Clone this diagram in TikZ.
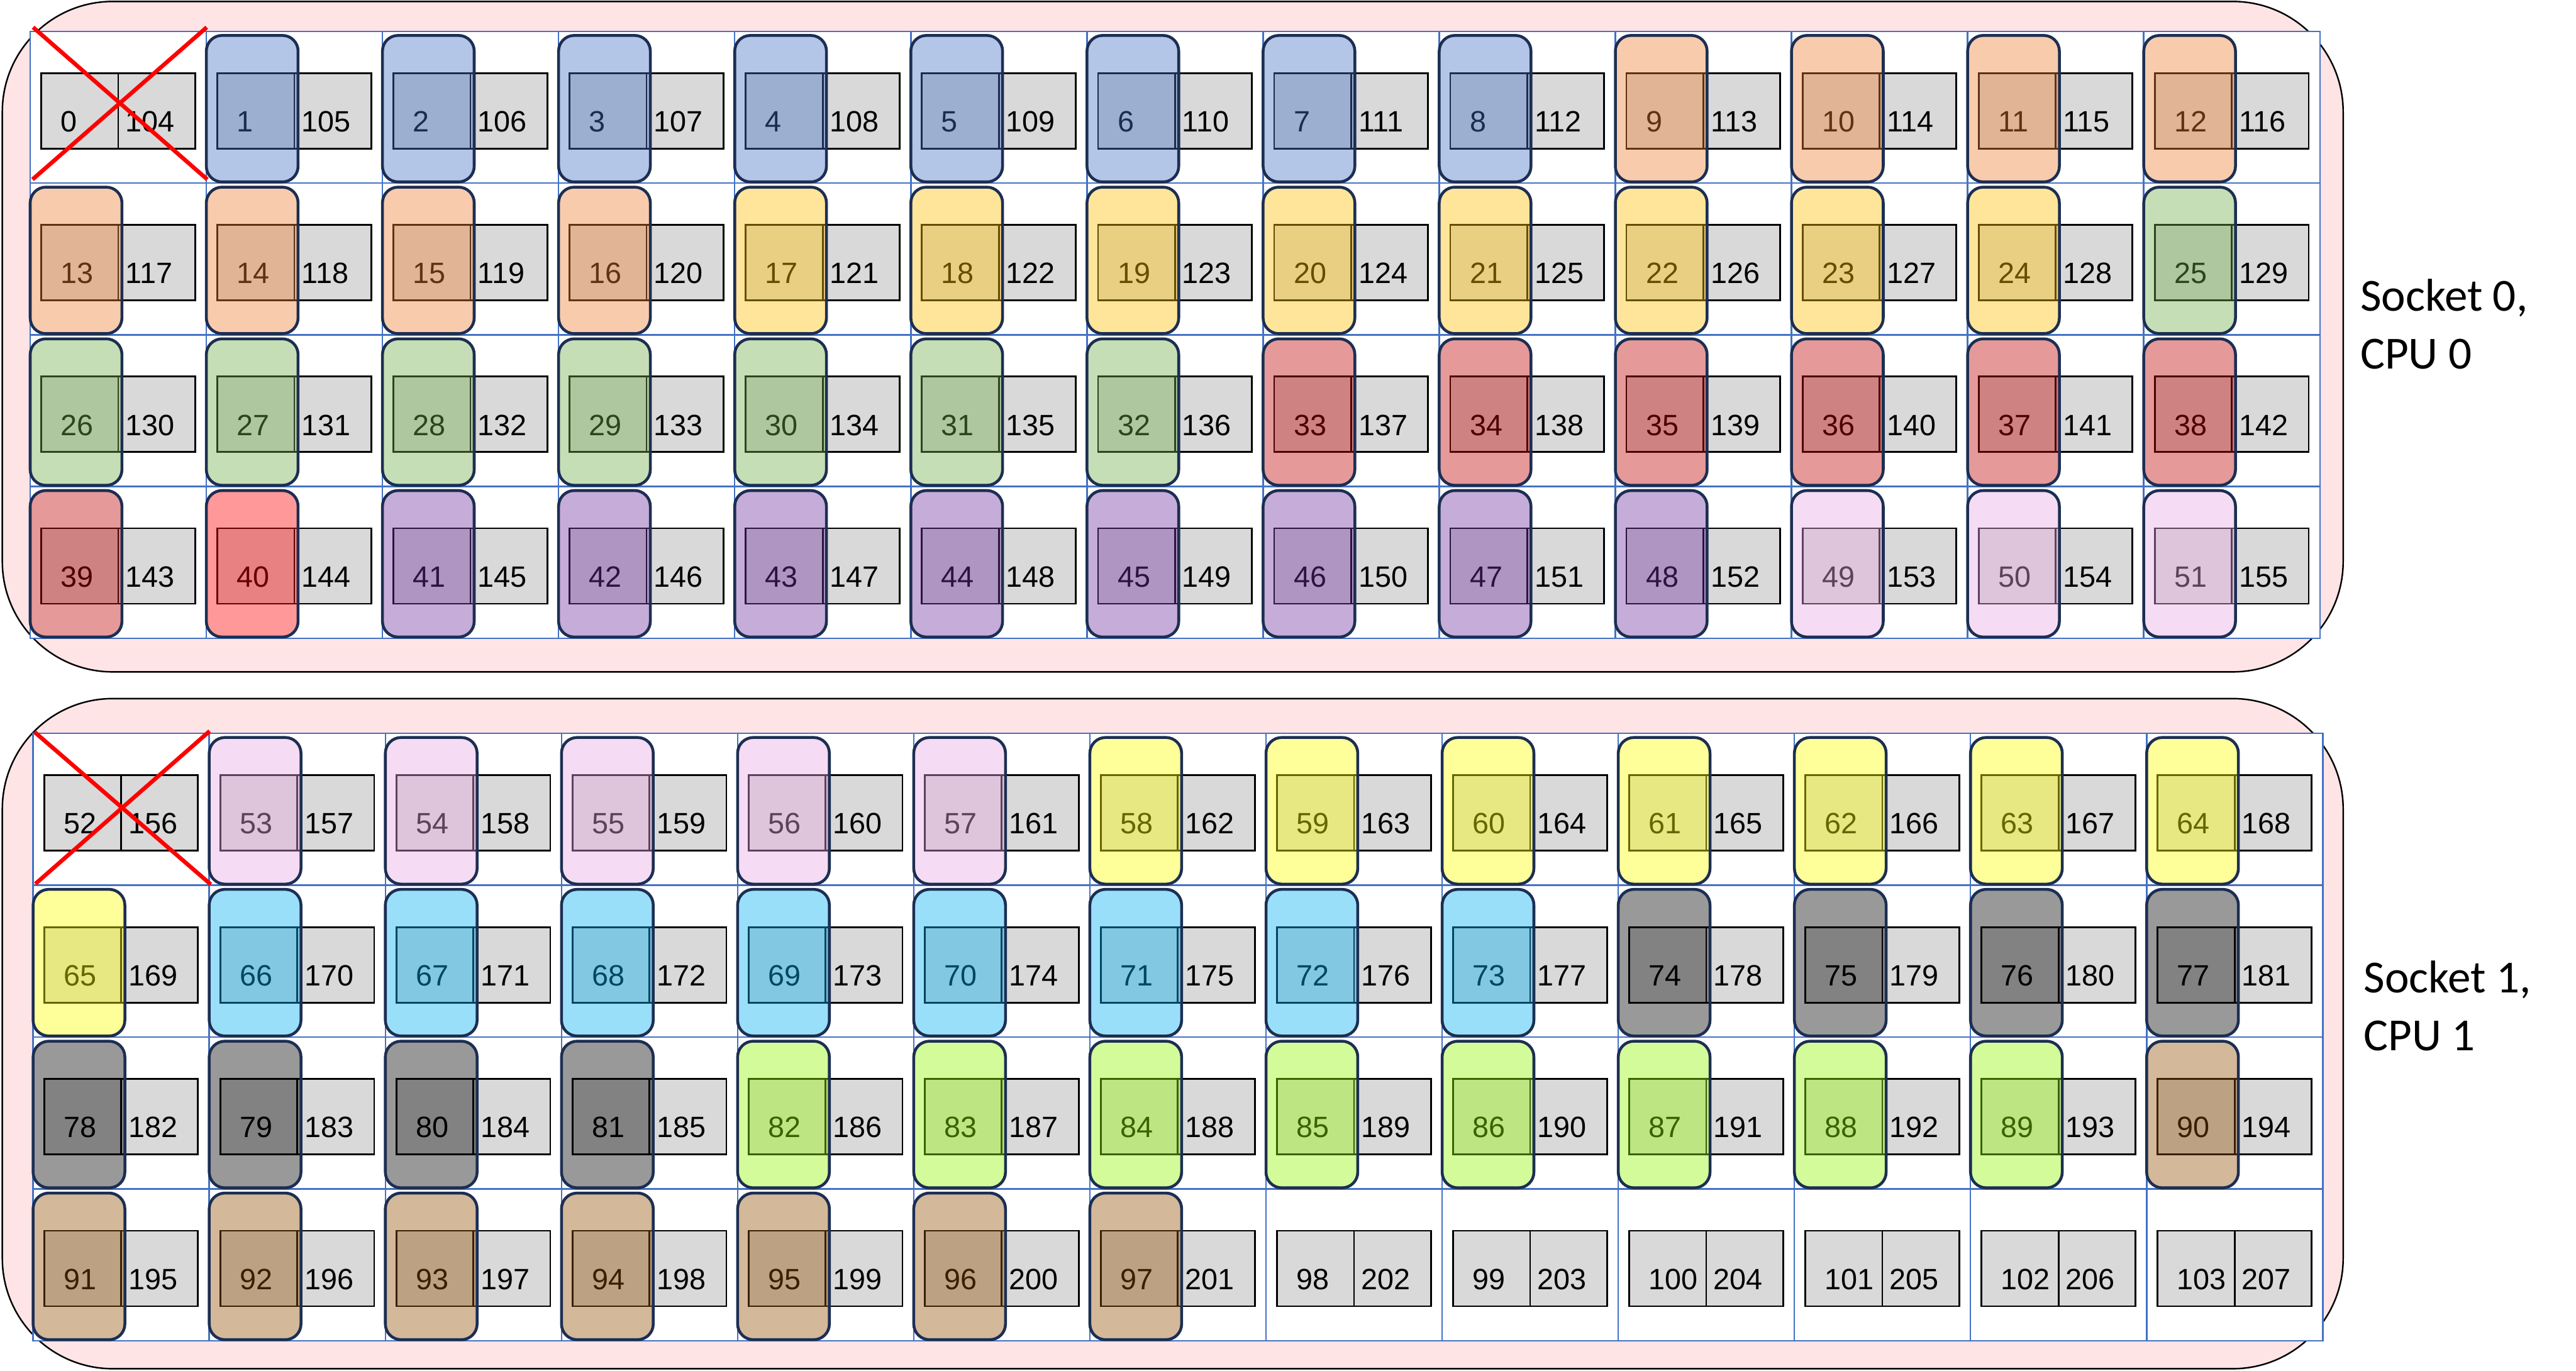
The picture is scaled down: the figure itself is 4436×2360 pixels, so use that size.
\documentclass[tikz,border=0pt]{standalone}
\usepackage{fontspec}
\setmainfont{Liberation Sans}
\newfontfamily\sockfont{Carlito}
\definecolor{sockpink}{HTML}{FFE4E6}
\definecolor{gridblue}{HTML}{4472C4}
\definecolor{boxgray}{HTML}{D9D9D9}
\definecolor{navy}{HTML}{1C2E52}
\definecolor{cBlue}{HTML}{4472C4}
\definecolor{cOrange}{HTML}{ED7D31}
\definecolor{cGold}{HTML}{FFC000}
\definecolor{cGreen}{HTML}{70AD47}
\definecolor{cRed}{HTML}{C00000}
\definecolor{cBright}{HTML}{FF0000}
\definecolor{cPurple}{HTML}{7030A0}
\definecolor{cPink}{HTML}{E8A7E1}
\definecolor{cYellow}{HTML}{FFFF00}
\definecolor{cCyan}{HTML}{00B0F0}
\definecolor{cBlack}{HTML}{000000}
\definecolor{cLime}{HTML}{93F700}
\definecolor{cTan}{HTML}{914E00}
\newcommand\pickcol[1]{%
 \def\cc{}%
 \ifnum#1>0 \ifnum#1<9 \def\cc{cBlue}\fi\fi
 \ifnum#1>8 \ifnum#1<17 \def\cc{cOrange}\fi\fi
 \ifnum#1>16 \ifnum#1<25 \def\cc{cGold}\fi\fi
 \ifnum#1>24 \ifnum#1<33 \def\cc{cGreen}\fi\fi
 \ifnum#1>32 \ifnum#1<40 \def\cc{cRed}\fi\fi
 \ifnum#1=40 \def\cc{cBright}\fi
 \ifnum#1>40 \ifnum#1<49 \def\cc{cPurple}\fi\fi
 \ifnum#1>48 \ifnum#1<58 \ifnum#1=52 \else\def\cc{cPink}\fi\fi\fi
 \ifnum#1>57 \ifnum#1<66 \def\cc{cYellow}\fi\fi
 \ifnum#1>65 \ifnum#1<74 \def\cc{cCyan}\fi\fi
 \ifnum#1>73 \ifnum#1<82 \def\cc{cBlack}\fi\fi
 \ifnum#1>81 \ifnum#1<90 \def\cc{cLime}\fi\fi
 \ifnum#1>89 \ifnum#1<98 \def\cc{cTan}\fi\fi
}
\tikzset{
  socket/.style={fill=sockpink, draw=black, line width=0.75pt, rounded corners=1.9cm},
  gridcell/.style={draw=gridblue, line width=0.75pt},
  graybox/.style={fill=boxgray, draw=black, line width=0.85pt},
  numtext/.style={anchor=base west, inner sep=0pt, font=\fontsize{14.4pt}{17pt}\selectfont},
  thread/.style={draw=navy, line width=1.4pt, rounded corners=0.27cm, fill opacity=0.4},
  cross/.style={draw=red, line width=2pt},
  socklabel/.style={anchor=base west, inner sep=0pt, font=\sockfont\fontsize{22.5pt}{28pt}\selectfont}
}
\begin{document}
\begin{tikzpicture}[x=0.01cm, y=-0.01cm]
\useasboundingbox (0,0) rectangle (4436,2360);
\fill[white] (0,0) rectangle (4436,2360);
% sockets
\draw[socket] (4,2.5) rectangle (4035,1157);
\draw[socket] (4,1203) rectangle (4035,2357);
% cells
\foreach \s/\xo/\yo/\rh in {0/52/54/261.25, 1/57/1263/261.5} {
  \foreach \r in {0,...,3} {
    \foreach \c in {0,...,12} {
      \pgfmathsetmacro\xl{\xo+\c*303.3}
      \pgfmathsetmacro\yt{\yo+\r*\rh}
      \pgfmathtruncatemacro\k{52*\s+13*\r+\c}
      \pgfmathtruncatemacro\kk{\k+104}
      \fill[white] (\xl,\yt) rectangle ++(303.3,\rh);
      \draw[gridcell] (\xl,\yt) rectangle ++(303.3,\rh);
      \draw[graybox] (\xl+19,\yt+72) rectangle ++(132.5,130);
      \draw[graybox] (\xl+151.5,\yt+72) rectangle ++(132.5,130);
      \node[numtext] (n\k) at (\xl+52,\yt+173) {\k};
      \node[numtext] (n\kk) at (\xl+163.5,\yt+173) {\kk};
    }
  }
}
% thread overlays
\foreach \s/\xo/\yo/\rh in {0/52/54/261.25, 1/57/1263/261.5} {
  \foreach \r in {0,...,3} {
    \foreach \c in {0,...,12} {
      \pgfmathsetmacro\xl{\xo+\c*303.3}
      \pgfmathsetmacro\yt{\yo+\r*\rh}
      \pgfmathtruncatemacro\k{52*\s+13*\r+\c}
      \pickcol{\k}
      \ifx\cc\empty\else
        \draw[thread, fill=\cc] (\xl,\yt+7) rectangle ++(158,\rh-9);
      \fi
    }
  }
}
% disabled cores
\coordinate (xa0) at (57,47);   \coordinate (xb0) at (357,309);
\coordinate (xc0) at (56,309);  \coordinate (xd0) at (356,47);
\draw[cross] (xa0) -- (xb0);
\draw[cross] (xc0) -- (xd0);
\coordinate (xa1) at (60,1261); \coordinate (xb1) at (363,1523);
\coordinate (xc1) at (61,1522); \coordinate (xd1) at (361,1259);
\draw[cross] (xa1) -- (xb1);
\draw[cross] (xc1) -- (xd1);
% labels
\node[socklabel] (s0a) at (4064,536) {Socket 0,};
\node[socklabel] (s0b) at (4064,635) {CPU 0};
\node[socklabel] (s1a) at (4070,1710) {Socket 1,};
\node[socklabel] (s1b) at (4070,1809) {CPU 1};
\end{tikzpicture}
\end{document}
